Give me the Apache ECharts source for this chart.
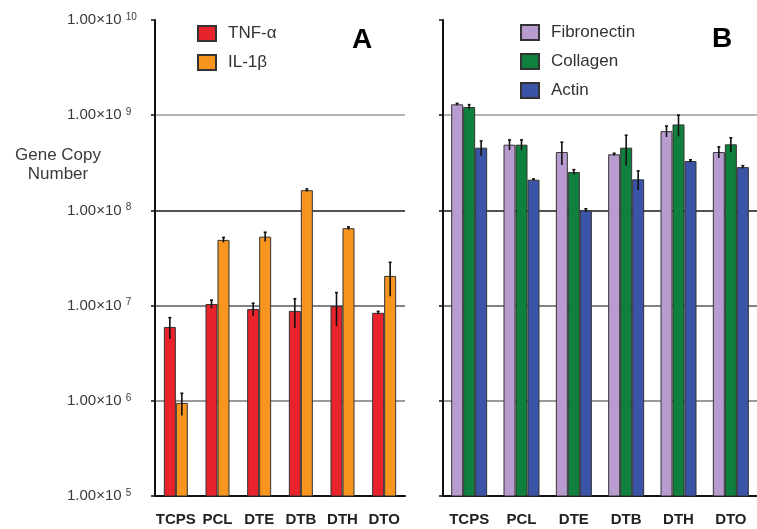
<!DOCTYPE html>
<html>
<head>
<meta charset="utf-8">
<script src="https://cdn.jsdelivr.net/npm/echarts@6/dist/echarts.min.js"></script>
<style>
  html, body { margin: 0; padding: 0; background: #fff; }
  #chart { width: 757px; height: 529px; }
</style>
</head>
<body>
<div id="chart"></div>
<script>
const cats = ['TCPS', 'PCL', 'DTE', 'DTB', 'DTH', 'DTO'];
const decades = [5, 6, 7, 8, 9, 10];

// panel A
const tnf = [5.97e6, 1.04e7, 9.2e6, 8.8e6, 9.9e6, 8.4e6];
const tnfErr = [1.5e6, 1.0e6, 1.4e6, 3.0e6, 3.8e6, 3e5];
const il1b = [9.5e5, 4.9e7, 5.3e7, 1.63e8, 6.5e7, 2.05e7];
const il1bErr = [2.5e5, 3e6, 6e6, 5e6, 2e6, 8e6];

// panel B
const fibronectin = [1.3e9, 4.9e8, 4.1e8, 3.88e8, 6.8e8, 4.1e8];
const fibErr = [3e7, 6e7, 1.1e8, 1e7, 9e7, 5.5e7];
const collagen = [1.22e9, 4.9e8, 2.53e8, 4.56e8, 8.0e8, 4.94e8];
const colErr = [7e7, 6e7, 1.5e7, 1.6e8, 2e8, 8.5e7];
const actin = [4.56e8, 2.1e8, 1.0e8, 2.12e8, 3.3e8, 2.85e8];
const actErr = [8e7, 4e6, 4e6, 4.8e7, 1e7, 1e7];

const FONT = 'Liberation Sans, Arial, sans-serif';
const BW = 12;

const chart = echarts.init(document.getElementById('chart'));

const gridLineColors = ['rgba(0,0,0,0)', '#7a7a7a', '#5a5a5a', '#1a1a1a', '#9a9a9a', 'rgba(0,0,0,0)'];

function yAxis(gridIndex, showLabels) {
  return {
    type: 'log', logBase: 10, gridIndex,
    min: Math.pow(10, decades[0]), max: Math.pow(10, decades[decades.length - 1]),
    axisLine: { show: true, lineStyle: { color: '#111', width: 2 } },
    axisTick: { show: true, length: 4, lineStyle: { color: '#111', width: 1.5 } },
    splitLine: { show: true, lineStyle: { color: gridLineColors, width: 1.6 } },
    axisLabel: {
      show: showLabels, align: 'left', margin: 88,
      formatter: v => '{m|1.00×10}{e|' + Math.round(Math.log10(v)) + '}',
      rich: {
        m: { fontSize: 15, fontFamily: FONT, color: '#3a3a3a' },
        e: { fontSize: 10, fontFamily: FONT, color: '#3a3a3a', verticalAlign: 'top', padding: [0, 0, 6, 4] },
      },
    },
  };
}

function xAxis(gridIndex) {
  return {
    type: 'category', gridIndex, data: cats,
    axisLine: { lineStyle: { color: '#111', width: 2 } },
    axisTick: { length: 4, lineStyle: { color: '#111', width: 1.5 } },
    axisLabel: { color: '#222', fontSize: 15, fontWeight: 'bold', fontFamily: FONT, margin: 16, interval: 0 },
  };
}

function bar(name, data, color, gi) {
  return {
    name, type: 'bar', data, xAxisIndex: gi, yAxisIndex: gi,
    barWidth: BW, barGap: 0,
    itemStyle: { color, borderColor: '#333', borderWidth: 1 },
  };
}

function errorBars(gi, groups) {
  const n = groups.length;
  const data = [];
  groups.forEach(([vals, errs], si) => vals.forEach((v, ci) => data.push([ci, v, errs[ci], si])));
  return {
    type: 'custom', xAxisIndex: gi, yAxisIndex: gi, z: 5,
    encode: { x: 0, y: 1 },
    data,
    renderItem(params, api) {
      const ci = api.value(0), v = api.value(1), e = api.value(2), si = api.value(3);
      const c = api.coord([ci, v]);
      const x = c[0] + (si - (n - 1) / 2) * BW;
      const top = api.coord([ci, v + e])[1];
      const bot = api.coord([ci, Math.max(v - e, 1e5)])[1];
      const style = { stroke: '#111', lineWidth: 1.6 };
      return {
        type: 'group',
        children: [
          { type: 'line', shape: { x1: x, y1: top, x2: x, y2: bot }, style },
          { type: 'line', shape: { x1: x - 1.5, y1: top, x2: x + 1.5, y2: top }, style },
        ],
      };
    },
  };
}

const legendText = { fontSize: 17, fontFamily: FONT, color: '#333', padding: [0, 0, 0, 7] };

chart.setOption({
  backgroundColor: '#fff',
  animation: false,
  grid: [
    { left: 155, top: 20, width: 250, height: 476 },
    { left: 443, top: 20, width: 321, height: 476 },
  ],
  legend: [
    { data: ['TNF-α', 'IL-1β'], icon: 'rect', orient: 'vertical', left: 192, top: 20, itemWidth: 18, itemHeight: 15, itemGap: 12, textStyle: legendText },
    { data: ['Fibronectin', 'Collagen', 'Actin'], icon: 'rect', orient: 'vertical', left: 515, top: 19, itemWidth: 18, itemHeight: 15, itemGap: 12, textStyle: legendText },
  ],
  xAxis: [xAxis(0), xAxis(1)],
  yAxis: [yAxis(0, true), yAxis(1, false)],
  graphic: [
    { type: 'text', x: 58, y: 146, style: { text: 'Gene Copy\nNumber', align: 'center', fontSize: 17, fontFamily: FONT, fill: '#3a3a3a', lineHeight: 19 } },
    { type: 'text', left: 352, top: 26, style: { text: 'A', fontSize: 28, fontWeight: 'bold', fontFamily: FONT, fill: '#000' } },
    { type: 'text', left: 712, top: 25, style: { text: 'B', fontSize: 28, fontWeight: 'bold', fontFamily: FONT, fill: '#000' } },
  ],
  series: [
    bar('TNF-α', tnf, '#e8232b', 0),
    bar('IL-1β', il1b, '#f7951f', 0),
    errorBars(0, [[tnf, tnfErr], [il1b, il1bErr]]),
    bar('Fibronectin', fibronectin, '#b89cd0', 1),
    bar('Collagen', collagen, '#0f803d', 1),
    bar('Actin', actin, '#3a55a8', 1),
    errorBars(1, [[fibronectin, fibErr], [collagen, colErr], [actin, actErr]]),
  ],
});
</script>
</body>
</html>
